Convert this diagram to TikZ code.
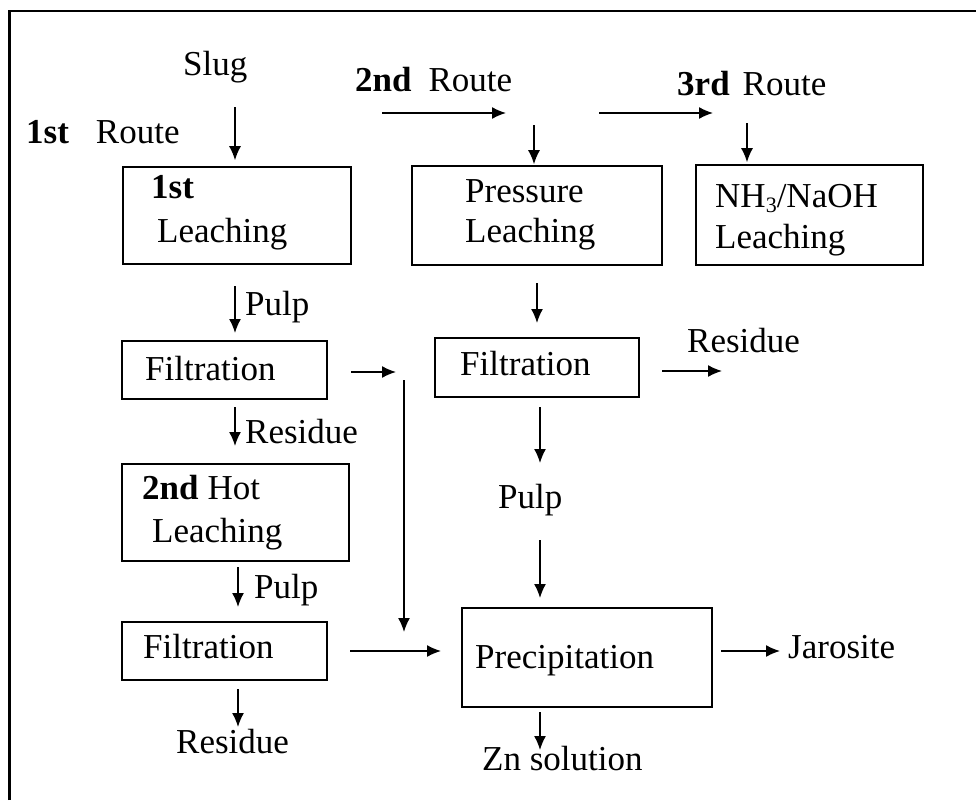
\documentclass[tikz,border=0pt]{standalone}
\usepackage{fontspec}
\setmainfont{Liberation Serif}
\usetikzlibrary{arrows.meta}
\begin{document}
\begin{tikzpicture}[x=1pt,y=-1pt,
  txt/.style={anchor=base west,inner sep=0pt,font=\fontsize{35}{41}\selectfont},
  box/.style={draw,line width=1.6pt,inner sep=0pt},
  arr/.style={line width=1.5pt,-{Latex[length=14pt,width=12pt]}},
  ln/.style={line width=1.5pt}]
\useasboundingbox (0,0) rectangle (976,800);
% frame (left and top edges)
\draw[line width=2.4pt] (9.5,800) -- (9.5,11) -- (976,11);

% boxes
\node[box,minimum width=228pt,minimum height=97pt] (lb1) at (237,215.5) {};
\node[box,minimum width=250pt,minimum height=99pt] (pl) at (537,215.5) {};
\node[box,minimum width=227pt,minimum height=100pt] (nh) at (809.5,215) {};
\node[box,minimum width=205pt,minimum height=58pt] (f1) at (224.5,370) {};
\node[box,minimum width=227pt,minimum height=97pt] (hl) at (235.5,512.5) {};
\node[box,minimum width=205pt,minimum height=58pt] (f2) at (224.5,651) {};
\node[box,minimum width=204pt,minimum height=59pt] (fm) at (537,367.5) {};
\node[box,minimum width=250pt,minimum height=99pt] (pr) at (587,657.5) {};

% texts
\node[txt] (slug) at (183,75) {Slug};
\node[txt] (r1) at (26,143) {\textbf{1st}\hspace{27pt}Route};
\node[txt] (r2) at (355,91) {\textbf{2nd}\hspace{17pt}Route};
\node[txt] (r3) at (677,95) {\textbf{3rd}\hspace{13pt}Route};
\node[txt] (lb1a) at (151,198) {\textbf{1st}};
\node[txt] (lb1b) at (157,242) {Leaching};
\node[txt] (pla) at (465,202) {Pressure};
\node[txt] (plb) at (465,242) {Leaching};
\node[txt] (nha) at (715,207) {NH\raisebox{-5pt}{\fontsize{22}{24}\selectfont 3}/NaOH};
\node[txt] (nhb) at (715,248) {Leaching};
\node[txt] (pulp1) at (245,315) {Pulp};
\node[txt] (f1t) at (145,380) {Filtration};
\node[txt] (res1) at (245,443) {Residue};
\node[txt] (hla) at (142,499) {\textbf{2nd}\hspace{9pt}Hot};
\node[txt] (hlb) at (152,542) {Leaching};
\node[txt] (pulp2) at (254,598) {Pulp};
\node[txt] (f2t) at (143,658) {Filtration};
\node[txt] (res2) at (176,753) {Residue};
\node[txt] (fmt) at (460,375) {Filtration};
\node[txt] (res3) at (687,352) {Residue};
\node[txt] (pulpm) at (498,508) {Pulp};
\node[txt] (prt) at (475,668) {Precipitation};
\node[txt] (jar) at (788,658) {Jarosite};
\node[txt] (zn) at (482,770) {Zn solution};

% connector end points
\coordinate (c1) at (235,107);
\coordinate (c2a) at (382,113); \coordinate (c2b) at (506,113);
\coordinate (c3a) at (599,113); \coordinate (c3b) at (713,113);
\coordinate (c4) at (534,125);
\coordinate (c5) at (747,123);
\coordinate (c6a) at (537,283); \coordinate (c6b) at (537,323);
\coordinate (c7a) at (662,371); \coordinate (c7b) at (722,371);
\coordinate (c8a) at (540,407); \coordinate (c8b) at (540,463);
\coordinate (c9a) at (540,540); \coordinate (c9b) at (540,598);
\coordinate (c10a) at (721,651); \coordinate (c10b) at (780,651);
\coordinate (c11a) at (540,712); \coordinate (c11b) at (540,750);
\coordinate (c12a) at (235,286); \coordinate (c12b) at (235,333);
\coordinate (c13a) at (351,372); \coordinate (c13b) at (396,372);
\coordinate (c14a) at (404,380); \coordinate (c14b) at (404,632);
\coordinate (c15a) at (235,407); \coordinate (c15b) at (235,446);
\coordinate (c16a) at (238,567); \coordinate (c16b) at (238,607);
\coordinate (c17a) at (350,651); \coordinate (c17b) at (441,651);
\coordinate (c18a) at (238,689); \coordinate (c18b) at (238,727);

% connectors
\draw[arr,shorten >=6pt] (c1) -- (c1 |- lb1.north);
\draw[arr] (c2a) -- (c2b);
\draw[arr] (c3a) -- (c3b);
\draw[arr,shorten >=1pt] (c4) -- (c4 |- pl.north);
\draw[arr,shorten >=2pt] (c5) -- (c5 |- nh.north);
\draw[arr] (c6a) -- (c6b);
\draw[arr] (c7a) -- (c7b);
\draw[arr] (c8a) -- (c8b);
\draw[arr] (c9a) -- (c9b);
\draw[arr] (c10a) -- (c10b);
\draw[arr] (c11a) -- (c11b);
\draw[arr] (c12a) -- (c12b);
\draw[arr] (c13a) -- (c13b);
\draw[arr] (c14a) -- (c14b);
\draw[arr] (c15a) -- (c15b);
\draw[arr] (c16a) -- (c16b);
\draw[arr] (c17a) -- (c17b);
\draw[arr] (c18a) -- (c18b);
\end{tikzpicture}
\end{document}
